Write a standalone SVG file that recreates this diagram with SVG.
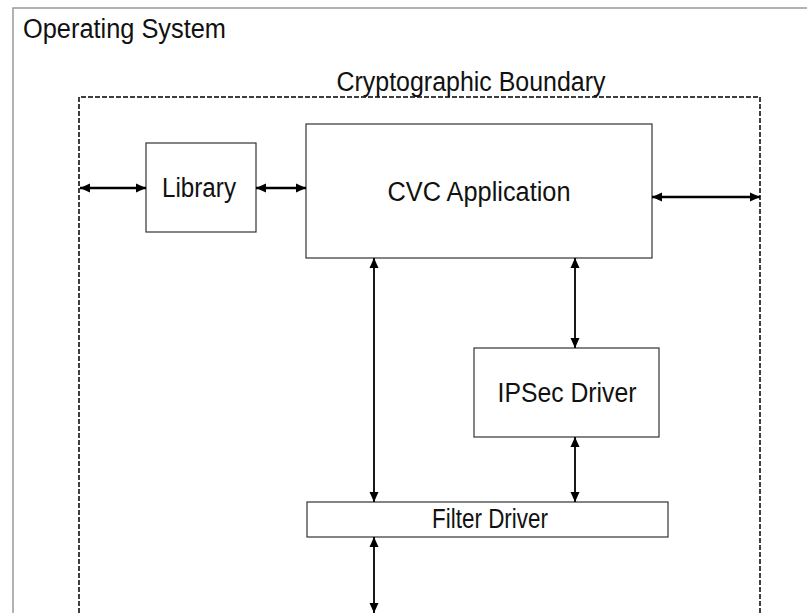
<svg xmlns="http://www.w3.org/2000/svg" width="807" height="613" viewBox="0 0 807 613">
<style>
.t{font-family:"Liberation Sans",Arial,sans-serif;font-size:27px;fill:#111}
.box{fill:#fff;stroke:#333;stroke-width:1.2}
.c{stroke:#000;fill:none}
.h{stroke-width:2.4}
.v{stroke-width:1.8}
</style>
<defs>
<marker id="a" viewBox="0 0 10 10" refX="10" refY="5" markerWidth="10" markerHeight="10" markerUnits="userSpaceOnUse" orient="auto-start-reverse">
<path d="M0,0.5 L10,5 L0,9.5 Z" fill="#000"/>
</marker>
</defs>
<rect width="807" height="613" fill="#fff"/>
<g id="os">
<path d="M13,613 V8 H807" fill="none" stroke="#999" stroke-width="1.5"/>
<text class="t" x="23" y="38" textLength="203" lengthAdjust="spacingAndGlyphs">Operating System</text>
</g>
<g id="boundary">
<path d="M79,613 V97 H760 V613" fill="none" stroke="#000" stroke-width="1.5" stroke-dasharray="5,2"/>
<text class="t" x="471" y="91" text-anchor="middle" textLength="269" lengthAdjust="spacingAndGlyphs">Cryptographic Boundary</text>
</g>
<g id="library">
<rect class="box" x="146" y="143" width="110" height="89"/>
<text class="t" x="199" y="197" text-anchor="middle" textLength="74" lengthAdjust="spacingAndGlyphs">Library</text>
</g>
<g id="cvc">
<rect class="box" x="306" y="124" width="346" height="134"/>
<text class="t" x="479" y="201" text-anchor="middle" textLength="183" lengthAdjust="spacingAndGlyphs">CVC Application</text>
</g>
<g id="ipsec">
<rect class="box" x="474" y="348" width="185" height="89"/>
<text class="t" x="567" y="402" text-anchor="middle" textLength="139" lengthAdjust="spacingAndGlyphs">IPSec Driver</text>
</g>
<g id="filter">
<rect class="box" x="307" y="502" width="361" height="35"/>
<text class="t" x="490" y="528" text-anchor="middle" textLength="116" lengthAdjust="spacingAndGlyphs">Filter Driver</text>
</g>
<g id="connectors">
<line class="c h" x1="80" y1="188" x2="146" y2="188" marker-start="url(#a)" marker-end="url(#a)"/>
<line class="c h" x1="256" y1="188" x2="306" y2="188" marker-start="url(#a)" marker-end="url(#a)"/>
<line class="c h" x1="652" y1="197" x2="760" y2="197" marker-start="url(#a)" marker-end="url(#a)"/>
<line class="c v" x1="374" y1="258" x2="374" y2="502" marker-start="url(#a)" marker-end="url(#a)"/>
<line class="c v" x1="575" y1="258" x2="575" y2="348" marker-start="url(#a)" marker-end="url(#a)"/>
<line class="c v" x1="575" y1="437" x2="575" y2="502" marker-start="url(#a)" marker-end="url(#a)"/>
<line class="c v" x1="374" y1="537" x2="374" y2="613" marker-start="url(#a)" marker-end="url(#a)"/>
</g>
</svg>
